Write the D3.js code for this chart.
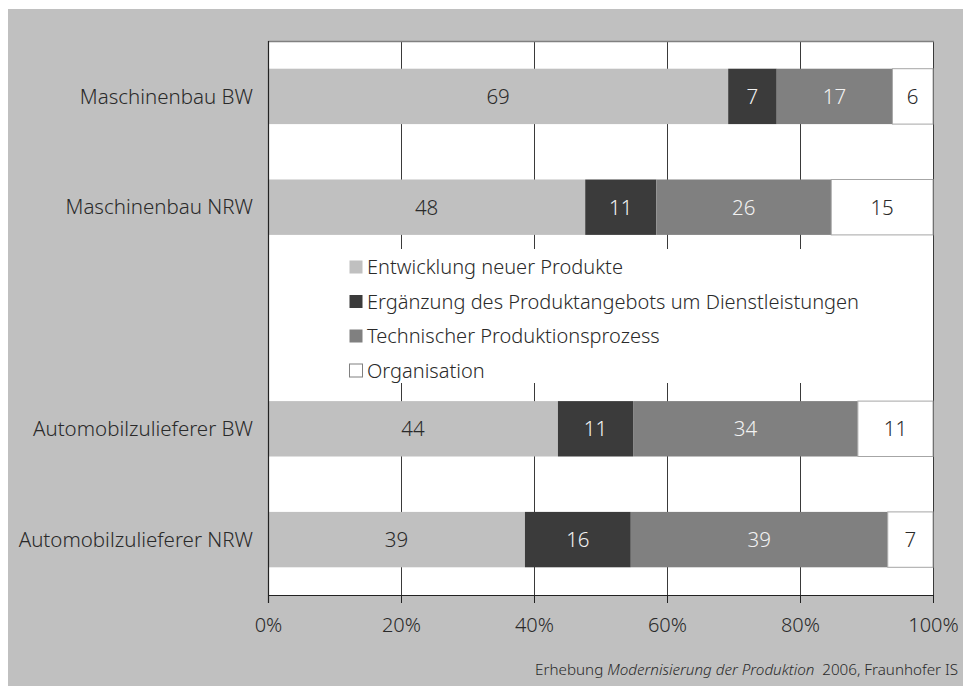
<!DOCTYPE html>
<html>
<head>
<meta charset="utf-8">
<script src="https://cdn.jsdelivr.net/npm/d3@7"></script>
<style>
  html, body { margin: 0; padding: 0; background: #fff; }
  svg { display: block; font-family: "Noto Sans", "Open Sans", sans-serif; font-weight: 300; }
</style>
</head>
<body>
<svg id="chart"></svg>
<script>
'use strict';

const WIDTH = 963;
const HEIGHT = 686;

// rows, top to bottom ('' = empty row that holds the legend)
const CATEGORIES = [
  'Maschinenbau BW',
  'Maschinenbau NRW',
  '',
  'Automobilzulieferer BW',
  'Automobilzulieferer NRW',
];

const SERIES = [
  'Entwicklung neuer Produkte',
  'Ergänzung des Produktangebots um Dienstleistungen',
  'Technischer Produktionsprozess',
  'Organisation',
];

// shares in percent, one value per row (null for the empty row)
const ENTWICKLUNG = [69.2, 47.7, null, 43.6, 38.6];
const ERGAENZUNG  = [7.3, 10.7, null, 11.3, 15.9];
const TECHNIK     = [17.4, 26.3, null, 33.8, 38.6];
const ORGANISATION = [6.1, 15.3, null, 11.3, 6.8];

const X_TICKS = [0, 0.2, 0.4, 0.6, 0.8, 1];

const COLORS = ['#c0c0c0', '#3b3b3b', '#808080', '#ffffff'];
const LABEL_COLORS = ['#2a2a2a', '#f2f2f2', '#f2f2f2', '#2a2a2a'];

const PLOT = { left: 268, right: 933, top: 41, bottom: 595 };

const rows = CATEGORIES.map((cat, i) => ({
  cat,
  s0: ENTWICKLUNG[i],
  s1: ERGAENZUNG[i],
  s2: TECHNIK[i],
  s3: ORGANISATION[i],
})).filter(d => d.cat !== '');

const stack = d3.stack()
  .keys(['s0', 's1', 's2', 's3'])
  .offset(d3.stackOffsetExpand);
const layers = stack(rows);

const x = d3.scaleLinear().domain([0, 1]).range([PLOT.left, PLOT.right]);
const y = d3.scaleBand()
  .domain(CATEGORIES)
  .range([PLOT.top, PLOT.bottom])
  .paddingInner(0.5)
  .paddingOuter(0.25);

const svg = d3.select('#chart')
  .attr('width', WIDTH)
  .attr('height', HEIGHT)
  .attr('viewBox', `0 0 ${WIDTH} ${HEIGHT}`);

// grey chart background
svg.append('rect')
  .attr('x', 8).attr('y', 9)
  .attr('width', WIDTH - 8).attr('height', HEIGHT - 9)
  .attr('fill', '#c0c0c0');

// white plot area
svg.append('rect')
  .attr('x', PLOT.left).attr('y', PLOT.top)
  .attr('width', PLOT.right - PLOT.left).attr('height', PLOT.bottom - PLOT.top)
  .attr('fill', '#fff');

// vertical grid lines
svg.append('g')
  .selectAll('line')
  .data(X_TICKS.slice(1))
  .join('line')
  .attr('x1', d => Math.round(x(d)) + 0.5).attr('x2', d => Math.round(x(d)) + 0.5)
  .attr('y1', PLOT.top).attr('y2', PLOT.bottom)
  .attr('stroke', '#3a3a3a').attr('stroke-width', 1);

// top border of plot
svg.append('line')
  .attr('x1', PLOT.left).attr('x2', PLOT.right + 1)
  .attr('y1', PLOT.top + 0.5).attr('y2', PLOT.top + 0.5)
  .attr('stroke', '#808080').attr('stroke-width', 1.5);

// bars
const barsG = svg.append('g');
layers.forEach((layer, si) => {
  const g = barsG.append('g');
  g.selectAll('rect')
    .data(layer)
    .join('rect')
    .attr('x', d => x(d[0]))
    .attr('y', d => y(d.data.cat))
    .attr('width', d => x(d[1]) - x(d[0]))
    .attr('height', y.bandwidth())
    .attr('fill', COLORS[si])
    .attr('stroke', si === 3 ? '#a6a6a6' : 'none')
    .attr('stroke-width', 1);

  g.selectAll('text')
    .data(layer)
    .join('text')
    .attr('x', d => (x(d[0]) + x(d[1])) / 2)
    .attr('y', d => y(d.data.cat) + y.bandwidth() / 2)
    .attr('dy', '0.36em')
    .attr('text-anchor', 'middle')
    .attr('font-size', 20.5)
    .attr('fill', LABEL_COLORS[si])
    .text(d => Math.round(d.data['s' + si]));
});

// axes
svg.append('line')
  .attr('x1', PLOT.left + 0.5).attr('x2', PLOT.left + 0.5)
  .attr('y1', PLOT.top).attr('y2', PLOT.bottom + 8)
  .attr('stroke', '#222').attr('stroke-width', 1.2);

const xAxis = d3.axisBottom(x)
  .tickValues(X_TICKS)
  .tickFormat(d3.format('.0%'))
  .tickSize(8)
  .tickPadding(15);

const xg = svg.append('g')
  .attr('transform', `translate(0,${PLOT.bottom})`)
  .call(xAxis);
xg.select('.domain').attr('stroke', '#222').attr('stroke-width', 1.2)
  .attr('d', `M${PLOT.left},0.5H${PLOT.right}`);
xg.selectAll('.tick line').attr('stroke', '#222');
xg.selectAll('.tick text')
  .attr('font-family', '"Noto Sans", sans-serif')
  .attr('font-weight', 300)
  .attr('font-size', 20)
  .attr('fill', '#2a2a2a');

// category labels
svg.append('g')
  .selectAll('text')
  .data(CATEGORIES.filter(c => c !== ''))
  .join('text')
  .attr('x', 253)
  .attr('y', d => y(d) + y.bandwidth() / 2)
  .attr('dy', '0.35em')
  .attr('text-anchor', 'end')
  .attr('font-size', 20.5)
  .attr('fill', '#2a2a2a')
  .text(d => d);

// legend inside the empty row
const legend = svg.append('g');
legend.append('rect')
  .attr('x', 342).attr('y', 249)
  .attr('width', 526).attr('height', 134)
  .attr('fill', '#fff');

const LEGEND_Y0 = 267;
const LEGEND_STEP = 34.5;
SERIES.forEach((name, i) => {
  const cy = LEGEND_Y0 + i * LEGEND_STEP;
  legend.append('rect')
    .attr('x', 349.5).attr('y', cy - 6.5)
    .attr('width', 13).attr('height', 13)
    .attr('fill', COLORS[i])
    .attr('stroke', i === 3 ? '#808080' : 'none');
  legend.append('text')
    .attr('x', 367)
    .attr('y', cy)
    .attr('dy', '0.35em')
    .attr('font-size', 20)
    .attr('fill', '#2a2a2a')
    .text(name);
});

// source note
const note = svg.append('text')
  .attr('x', 958).attr('y', 675)
  .attr('text-anchor', 'end')
  .attr('font-size', 15.2)
  .attr('fill', '#2a2a2a')
  .attr('xml:space', 'preserve');
note.append('tspan').text('Erhebung ');
note.append('tspan').attr('font-style', 'italic').text('Modernisierung der Produktion');
note.append('tspan').text('\u00a0 2006, Fraunhofer IS');
</script>
</body>
</html>
